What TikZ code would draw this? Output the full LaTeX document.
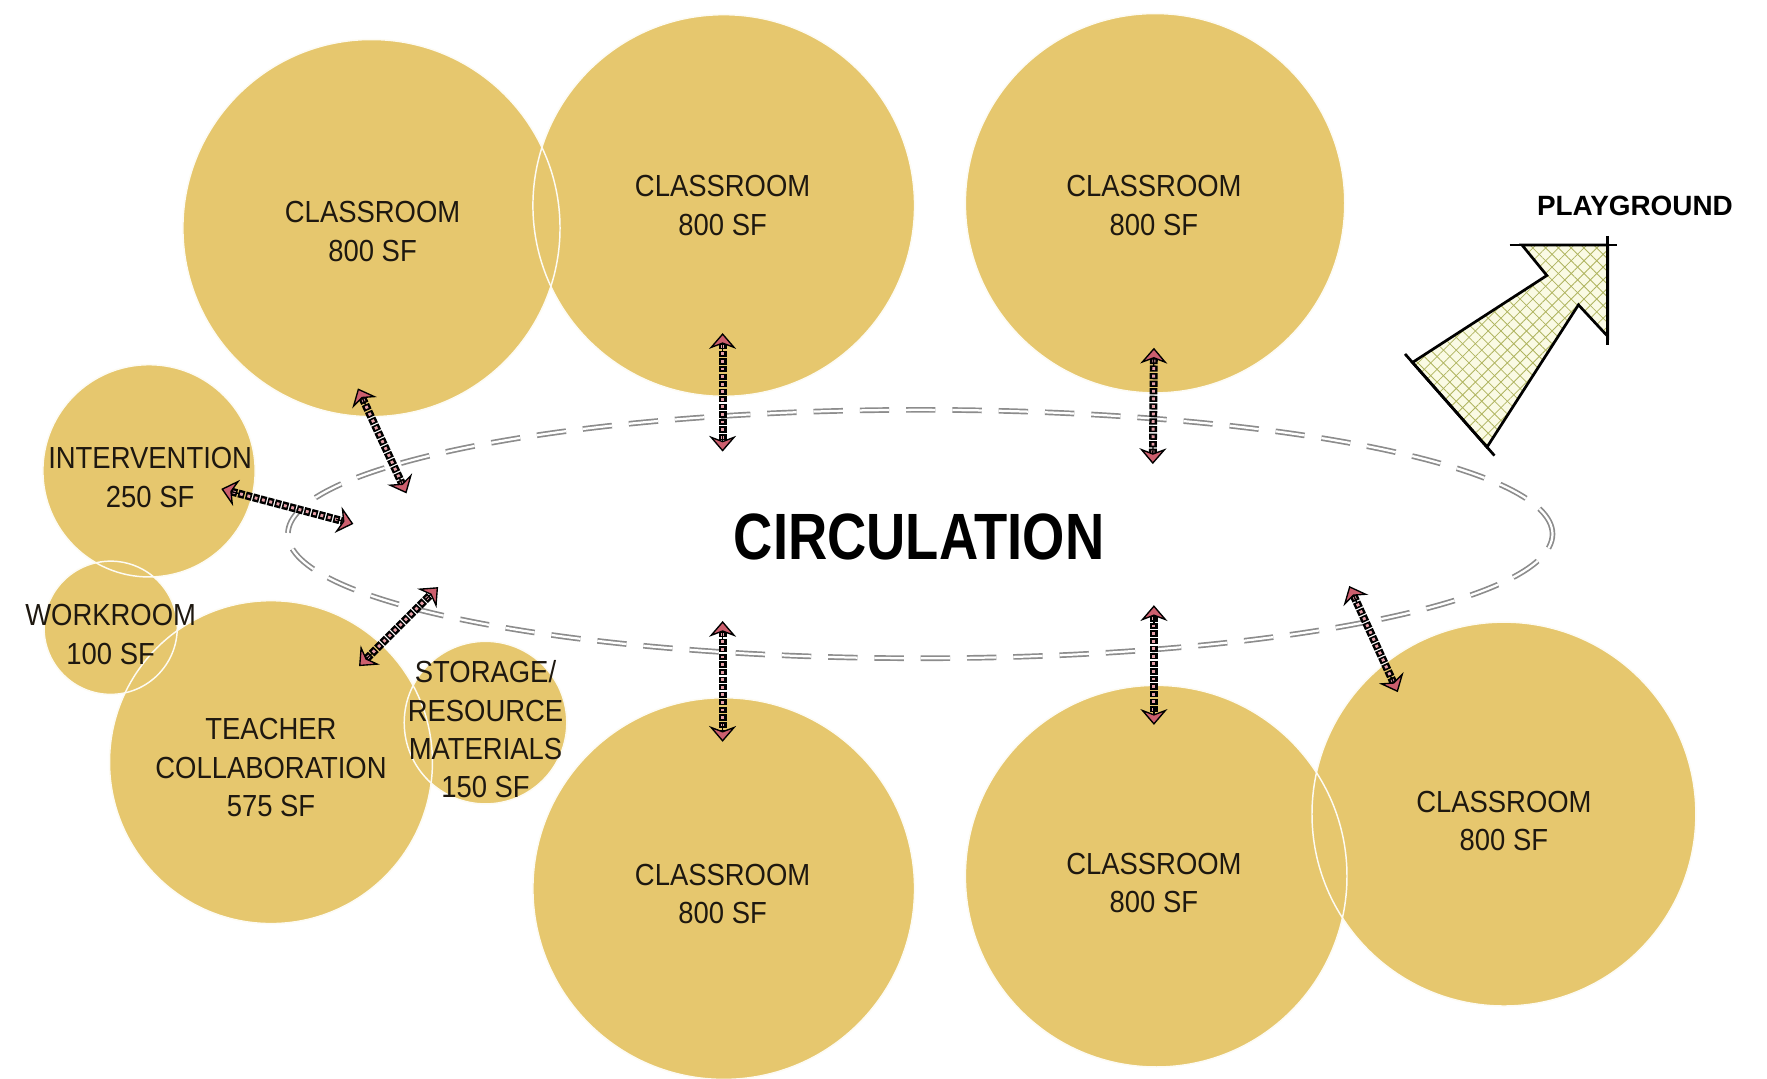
\documentclass[tikz,border=0pt]{standalone}
\usepackage{fontspec}
\setmainfont{Liberation Sans}[FakeStretch=0.9]
\newfontfamily\circfont{Liberation Sans}[FakeStretch=0.83]
\newfontfamily\playfont{Liberation Sans}
\usetikzlibrary{arrows.meta,calc,patterns.meta,shapes.geometric}
\definecolor{roomfill}{RGB}{230,199,110}
\definecolor{textcol}{RGB}{30,24,16}
\definecolor{dashgray}{RGB}{140,140,140}
\definecolor{linkred}{RGB}{205,95,110}
\definecolor{linkpale}{RGB}{230,160,168}
\definecolor{hatchcol}{RGB}{175,180,95}
\definecolor{hatchbg}{RGB}{250,250,228}
\tikzset{
  roomfillstyle/.style={fill=roomfill},
  roomedge/.style={draw=white!92!roomfill, line width=1.3pt},
  lbl/.style={font=\fontsize{27}{34}\selectfont, align=center, text=textcol, inner sep=0pt},
  circpath/.style={draw=dashgray, line width=1.5pt, double=white, double distance=2pt, dash pattern=on 26pt off 15pt},
  shaftout/.style={line width=7pt, draw=black, dash pattern=on 5.5pt off 1.2pt, shorten <=9pt, shorten >=9pt},
  shaftin/.style={line width=2.6pt, draw=linkpale, dash pattern=on 2.5pt off 4.2pt, dash phase=5.2pt, shorten <=9pt, shorten >=9pt},
  tiphead/.style={line width=1.2pt, draw=black, -{Stealth[length=14pt, width=24pt, inset=4.5pt, fill=linkred]}},
  pgedge/.style={draw=black, line width=2.4pt, line join=miter},
}
\newcommand\dlink[2]{%
  \draw[shaftout] (#1) -- (#2);
  \draw[shaftin] (#1) -- (#2);
  \draw[tiphead] ($(#2)!16pt!(#1)$) -- (#2);
  \draw[tiphead] ($(#1)!16pt!(#2)$) -- (#1);
}
\begin{document}
\begin{tikzpicture}[x=1pt,y=-1pt]
\useasboundingbox[fill=white] (0,0) rectangle (1565,955);

% room centres
\coordinate (cA) at (329,202);
\coordinate (cB) at (641,182);
\coordinate (cC) at (1023,180);
\coordinate (cD) at (132,417);
\coordinate (cE) at (98,556);
\coordinate (cF) at (240,675);
\coordinate (cG) at (430,640);
\coordinate (cH) at (641,787);
\coordinate (cI) at (1024,776);
\coordinate (cJ) at (1332,721);

\foreach \c/\r in {cA/167,cB/169,cC/168,cD/94,cE/59,cF/143,cG/72,cH/169,cI/169,cJ/170}
  \fill[roomfillstyle] (\c) circle[radius=\r];
\foreach \c/\r in {cA/167,cB/169,cC/168,cD/94,cE/59,cF/143,cG/72,cH/169,cI/169,cJ/170}
  \draw[roomedge] (\c) circle[radius=\r];

% circulation
\node[ellipse, circpath, minimum width=1120pt, minimum height=220pt, inner sep=0pt] (circ) at (815,473) {};
\node[font=\circfont\bfseries\fontsize{58}{60}\selectfont, text=black, inner sep=0pt] (circtext) at (814,476) {CIRCULATION};

% labels
\node[lbl] (tA) at (330,205) {CLASSROOM\\800 SF};
\node[lbl] (tB) at (640,182) {CLASSROOM\\800 SF};
\node[lbl] (tC) at (1022,182) {CLASSROOM\\800 SF};
\node[lbl] (tD) at (133,423) {INTERVENTION\\250 SF};
\node[lbl] (tE) at (98,562) {WORKROOM\\100 SF};
\node[lbl] (tF) at (240,680) {TEACHER\\COLLABORATION\\575 SF};
\node[lbl] (tG) at (430,646) {STORAGE/\\RESOURCE\\MATERIALS\\150 SF};
\node[lbl] (tH) at (640,792) {CLASSROOM\\800 SF};
\node[lbl] (tI) at (1022,782) {CLASSROOM\\800 SF};
\node[lbl] (tJ) at (1332,727) {CLASSROOM\\800 SF};

% links
\coordinate (a1s) at (317,344); \coordinate (a1e) at (360,437);
\coordinate (a2s) at (640,295); \coordinate (a2e) at (640,400);
\coordinate (a3s) at (1022,308); \coordinate (a3e) at (1021,411);
\coordinate (a4s) at (196,433); \coordinate (a4e) at (313,464);
\coordinate (a5s) at (318,590); \coordinate (a5e) at (388,520);
\coordinate (a6s) at (640,550); \coordinate (a6e) at (640,657);
\coordinate (a7s) at (1022,536); \coordinate (a7e) at (1022,642);
\coordinate (a8s) at (1195,519); \coordinate (a8e) at (1238,613);
\dlink{a1s}{a1e}
\dlink{a2s}{a2e}
\dlink{a3s}{a3e}
\dlink{a4s}{a4e}
\dlink{a5s}{a5e}
\dlink{a6s}{a6e}
\dlink{a7s}{a7e}
\dlink{a8s}{a8e}

% playground arrow
\coordinate (pA) at (1348,217);
\coordinate (pB) at (1424,217);
\coordinate (pC) at (1424,298);
\coordinate (pD) at (1398,270);
\coordinate (pE) at (1317,396);
\coordinate (pF) at (1251,321);
\coordinate (pG) at (1370,244);
\fill[hatchbg] (pA) -- (pB) -- (pC) -- (pD) -- (pE) -- (pF) -- (pG) -- cycle;
\fill[pattern={Lines[angle=45,distance=8pt,line width=0.7pt]}, pattern color=hatchcol] (pA) -- (pB) -- (pC) -- (pD) -- (pE) -- (pF) -- (pG) -- cycle;
\fill[pattern={Lines[angle=-45,distance=8pt,line width=0.7pt]}, pattern color=hatchcol] (pA) -- (pB) -- (pC) -- (pD) -- (pE) -- (pF) -- (pG) -- cycle;
\draw[pgedge] (pA) -- (pB) -- (pC) -- (pD) -- (pE) -- (pF) -- (pG) -- cycle;
\draw[pgedge] ($(pA)!-11pt!(pB)$) -- ($(pB)!-8pt!(pA)$);
\draw[pgedge] ($(pB)!-8pt!(pC)$) -- ($(pC)!-8pt!(pB)$);
\draw[pgedge] ($(pE)!-10pt!(pF)$) -- ($(pF)!-10pt!(pE)$);
\node[font=\playfont\bfseries\fontsize{24.7}{26}\selectfont, text=black, inner sep=0pt] (play) at (1448,182) {PLAYGROUND};
\end{tikzpicture}
\end{document}
